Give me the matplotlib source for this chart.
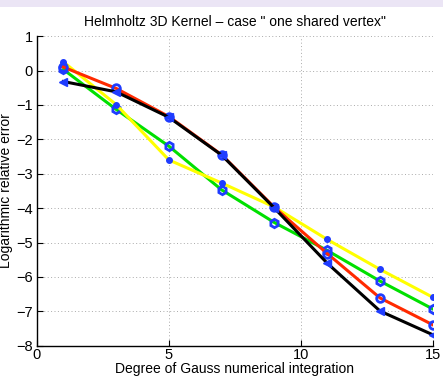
import matplotlib
matplotlib.use("Agg")
import matplotlib.pyplot as plt
from matplotlib.patches import Rectangle

plt.rcParams["font.family"] = ["Liberation Sans", "DejaVu Sans"]

# Gauss integration degree and log10 relative error for each scheme
degree = [1, 3, 5, 7, 9, 11, 13, 15]
err_red = [0.10, -0.52, -1.34, -2.45, -3.98, -5.32, -6.61, -7.39]
err_green = [0.03, -1.13, -2.20, -3.47, -4.42, -5.23, -6.12, -6.93]
err_yellow = [0.25, -0.99, -2.60, -3.27, -3.97, -4.91, -5.78, -6.59]
err_black = [-0.32, -0.62, -1.36, -2.46, -4.00, -5.60, -6.99, -7.68]

x_ticks = [0, 5, 10, 15]
y_ticks = list(range(-8, 2))

fig = plt.figure(figsize=(4.43, 3.80), dpi=100)
fig.patches.append(Rectangle((0, 0.982), 1, 0.018, transform=fig.transFigure,
                             facecolor="#ebe5f5", edgecolor="none"))
ax = fig.add_axes([0.0835, 0.09, 0.8935, 0.815])

blue = "#1f3cff"
ax.plot(degree, err_green, color="#00e000", lw=2.2, marker="h", ms=6,
        mfc="none", mec=blue, mew=2.0, zorder=3)
ax.plot(degree, err_yellow, color="#ffff00", lw=2.2, marker=".", ms=8,
        mfc=blue, mec=blue, zorder=3)
ax.plot(degree, err_red, color="#ff2a00", lw=2.2, marker="o", ms=5.5,
        mfc="none", mec=blue, mew=2.0, zorder=4)
ax.plot(degree, err_black, color="black", lw=2.2, marker="<", ms=6,
        mfc=blue, mec=blue, zorder=5)

ax.set_xlim(0, 15)
ax.set_ylim(-8, 1)
ax.set_xticks(x_ticks)
ax.set_yticks(y_ticks)
ax.tick_params(direction="in", length=4, labelsize=10.5, pad=3)
ax.tick_params(axis="x", pad=1.5)
ax.grid(True, linestyle=(0, (1, 2.5)), color="#aaaaaa", lw=0.7)
ax.spines["top"].set_visible(False)
ax.spines["right"].set_visible(False)
ax.spines["left"].set_linewidth(1.0)
ax.spines["bottom"].set_linewidth(1.0)

ax.set_title('Helmholtz 3D Kernel \u2013 case " one shared vertex"', fontsize=10, pad=7)
ax.set_xlabel("Degree of Gauss numerical integration", fontsize=10, labelpad=0)
ax.set_ylabel("Logarithmic relative error", fontsize=10, labelpad=2)

fig.savefig("out.png", dpi=100)
